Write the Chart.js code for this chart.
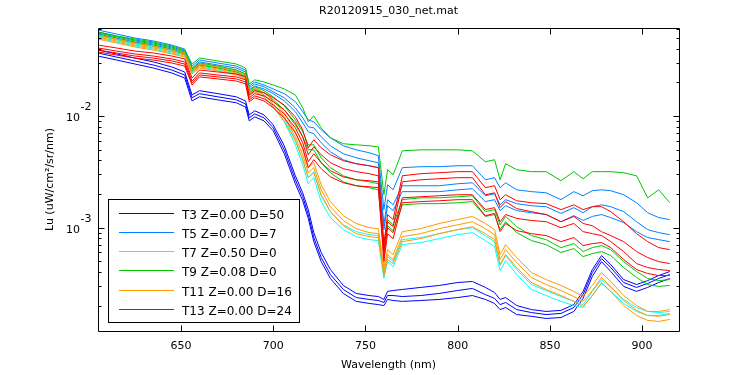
<!DOCTYPE html>
<html>
<head>
<meta charset="utf-8">
<script src="https://cdn.jsdelivr.net/npm/chart.js@4.4.0/dist/chart.umd.min.js"></script>
<style>
  html, body { margin: 0; padding: 0; background: #fff; }
  #spectra { display: block; }
</style>
</head>
<body>
<canvas id="spectra" width="750" height="375"></canvas>
<script>
const chartTitle = "R20120915_030_net.mat";
const xTitle = "Wavelength (nm)";
const yTitle = "Lu (uW/cm\u00b2/sr/nm)";

// x ticks and y decades / minor ticks (log axis)
const xTicks = [650, 700, 750, 800, 850, 900];
const yMajorTicks = [1e-3, 1e-2];
const yMinorTicks = [2e-4, 3e-4, 4e-4, 5e-4, 6e-4, 7e-4, 8e-4, 9e-4,
  2e-3, 3e-3, 4e-3, 5e-3, 6e-3, 7e-3, 8e-3, 9e-3, 2e-2, 3e-2, 4e-2, 5e-2, 6e-2];

const wavelengths = [605, 615, 625, 635, 645, 652, 656, 660, 670, 680, 685, 687, 690,
  695, 700, 706, 712, 716, 719, 722, 726, 731, 738, 745, 752, 757, 760, 762, 765, 770,
  780, 790, 800, 808, 815, 820, 823, 826, 832, 840, 848, 856, 863, 868, 873, 878, 883,
  890, 897, 903, 909, 915];

// all radiance values below are in units of 1e-4 uW/cm^2/sr/nm
const UNIT = 1e-4;

const t3 = [
  [388,358,329,304,274,247,154,168,158,148,136,102,111,102,83.1,54.0,29.1,20.5,14.5,9.03,5.99,4.22,3.04,2.58,2.47,2.42,2.28,2.69,2.74,2.80,2.92,3.04,3.23,3.30,2.92,2.63,2.28,2.37,2.01,1.85,1.78,1.82,2.05,2.69,4.22,5.63,4.67,3.43,3.10,3.36,3.73,4.05],
  [365,336,310,285,257,232,145,158,148,139,128,96.0,104,96.0,78.2,49.7,26.8,18.9,13.1,8.15,5.40,3.81,2.80,2.37,2.28,2.23,2.14,2.47,2.47,2.42,2.47,2.58,2.74,2.86,2.52,2.33,2.05,2.14,1.85,1.74,1.67,1.71,1.93,2.52,3.97,5.29,4.40,3.23,2.92,3.17,3.51,3.81],
  [343,316,291,268,242,218,136,148,139,131,120,90.2,98.0,90.2,73.5,45.8,24.7,17.4,12.1,7.50,4.97,3.51,2.58,2.19,2.10,2.05,2.01,2.28,2.23,2.19,2.23,2.28,2.37,2.47,2.28,2.10,1.85,1.93,1.67,1.61,1.54,1.57,1.78,2.33,3.66,4.97,4.05,2.98,2.69,2.92,3.23,3.51],
];
const t5 = [
  [586,540,497,468,430,396,279,316,297,279,257,185,201,189,174,158,134,109,92.1,88.4,75.0,63.7,54.0,49.7,46.8,44.0,14.5,24.2,21.8,34.4,35.1,35.1,35.8,35.8,26.8,28.0,22.8,25.2,21.8,21.0,20.5,17.8,21.0,19.3,21.4,21.8,21.4,19.7,16.7,13.6,12.3,11.8],
  [563,518,477,449,413,380,268,304,285,268,247,178,193,182,164,145,118,96.0,79.8,78.2,65.0,54.0,45.8,42.2,39.7,38.1,10.6,17.8,16.0,23.7,23.7,23.7,24.7,25.2,19.3,20.1,16.0,17.8,16.4,15.7,15.4,13.4,15.1,13.6,15.4,16.0,15.4,13.9,11.3,9.60,9.03,8.66],
  [540,497,458,430,396,365,257,291,274,257,237,171,185,174,158,136,109,86.6,72.0,69.1,57.5,47.7,40.5,37.3,35.8,34.4,9.60,15.7,14.2,21.0,21.0,21.0,21.8,22.3,17.1,17.8,14.2,15.7,14.2,13.6,13.1,11.3,12.8,11.6,12.6,13.1,12.3,11.1,9.21,8.15,7.81,7.50],
];
const t7 = [
  [518,477,440,413,380,358,252,285,268,247,227,161,174,154,128,96.0,61.1,40.5,28.0,31.7,19.3,13.9,10.6,9.21,8.66,8.49,3.81,5.51,4.97,7.81,8.15,8.84,9.60,10.0,8.49,7.50,4.58,5.63,4.22,3.10,2.74,2.42,2.19,2.05,2.69,3.43,2.92,2.28,1.93,1.78,1.74,1.78],
  [497,458,422,396,365,343,242,274,257,237,218,154,168,148,120,88.4,55.1,36.5,24.7,28.0,17.1,12.3,9.60,8.31,7.81,7.66,3.51,4.97,4.49,7.05,7.35,7.98,8.66,9.03,7.66,6.77,4.13,5.08,3.81,2.80,2.47,2.19,2.01,1.93,2.47,3.17,2.69,2.10,1.78,1.64,1.64,1.71],
];
const t9 = [
  [563,518,487,458,422,388,291,329,310,291,268,193,210,201,189,174,154,118,88.4,100,78.2,63.7,56.3,55.1,54.0,52.9,19.7,33.0,29.7,48.7,49.7,49.7,49.7,48.7,38.9,40.5,26.8,37.3,33.0,31.7,31.7,26.3,31.7,27.4,31.7,31.7,31.7,31.0,29.1,18.5,21.8,16.7],
  [551,508,468,440,405,373,263,297,279,257,237,168,182,168,148,123,92.1,72.0,55.1,55.1,42.2,34.4,29.1,26.8,25.7,24.7,7.05,11.8,10.6,17.8,18.5,18.5,18.9,19.3,13.9,14.5,10.6,12.6,10.2,8.49,7.81,6.63,7.20,6.11,6.63,6.91,6.36,4.97,4.05,3.51,3.36,3.43],
  [529,487,449,422,388,358,252,285,268,247,227,161,174,161,139,113,83.1,65.0,49.7,49.7,38.1,31.0,25.7,23.7,22.8,21.8,6.36,10.4,9.41,16.0,16.4,16.4,16.7,17.1,12.6,13.1,9.60,11.3,9.03,7.66,7.05,5.99,6.50,5.51,5.86,6.11,5.63,4.40,3.58,3.10,2.98,3.04],
];
const t11 = [
  [529,487,449,422,388,365,257,291,274,252,232,164,178,161,136,106,72.0,49.7,34.4,38.1,24.2,17.1,12.8,10.9,10.0,9.80,4.40,6.36,5.74,9.21,9.80,10.9,11.8,12.6,10.9,9.60,5.74,7.05,5.40,3.97,3.43,3.04,2.69,2.42,3.04,3.97,3.30,2.47,2.01,1.78,1.78,1.85],
  [508,468,430,405,373,350,247,279,263,242,223,158,171,154,128,98.0,65.0,44.9,31.0,34.4,21.8,15.4,11.6,9.80,9.03,8.84,4.05,5.74,5.18,8.31,8.84,9.80,10.6,11.3,9.80,8.66,5.18,6.36,4.87,3.58,3.10,2.74,2.42,2.19,2.74,3.58,2.98,2.23,1.82,1.64,1.61,1.67],
  [487,449,413,388,358,336,237,268,252,232,214,151,164,148,120,90.2,59.9,40.5,28.0,31.0,19.7,13.9,10.4,8.84,8.31,8.15,3.73,5.18,4.77,7.50,7.98,8.84,9.60,10.2,8.84,7.81,4.67,5.74,4.40,3.23,2.80,2.47,2.19,1.97,2.47,3.23,2.69,2.01,1.64,1.48,1.45,1.51],
];
const t13 = [
  [430,405,380,365,343,323,218,257,247,237,223,154,168,161,145,125,98.0,75.0,51.8,61.1,51.8,44.9,39.7,37.3,35.8,34.4,7.05,13.1,11.8,29.1,30.4,31.0,31.7,31.7,22.8,23.7,17.8,19.7,17.4,16.7,16.4,14.5,16.0,14.5,15.4,15.4,13.9,11.3,8.84,7.50,6.63,6.36],
  [405,380,358,343,323,304,205,242,232,223,210,145,158,151,134,113,86.6,65.0,44.9,52.9,44.9,38.1,33.7,31.7,30.4,29.1,6.11,11.3,10.2,25.7,26.8,27.4,28.0,28.0,19.7,20.5,15.1,17.1,14.8,13.9,13.1,11.3,12.6,10.9,10.4,9.21,8.49,7.50,6.11,5.40,4.97,4.77],
  [388,365,343,329,310,291,197,232,223,214,201,139,151,142,125,104,78.2,57.5,38.9,45.8,38.1,32.3,28.5,26.8,26.3,25.7,5.40,10.0,9.03,18.5,18.9,19.3,19.7,19.7,14.5,15.1,11.3,13.1,12.1,11.6,11.3,10.0,10.9,9.21,8.84,8.49,7.50,6.11,4.77,4.40,4.22,4.13],
  [373,350,329,316,297,279,189,223,214,205,193,134,145,136,118,96.0,70.6,51.8,34.4,40.5,33.7,28.5,25.2,23.7,23.2,22.8,4.97,8.84,7.98,16.7,17.1,17.4,17.8,17.8,12.8,13.4,9.21,10.9,9.41,8.84,8.49,7.50,8.15,6.91,7.20,7.35,6.63,5.18,4.22,3.89,3.73,3.73],
];

const seriesLabels = ["T3 Z=0.00 D=50", "T5 Z=0.00 D=7", "T7 Z=0.50 D=0",
  "T9 Z=0.08 D=0", "T11 Z=0.00 D=16", "T13 Z=0.00 D=24"];
const seriesLines = [t3, t5, t7, t9, t11, t13];
const seriesColors = ["#0000ff", "#0080ff", "#00ffff", "#00c800", "#ff9900", "#ff0000"];

const FONT = "DejaVu Sans";

// one Chart.js dataset per spectrum, later groups drawn on top
const datasets = [];
seriesLines.forEach((lines, g) => {
  lines.forEach((vals) => {
    datasets.push({
      label: seriesLabels[g],
      borderColor: seriesColors[g],
      backgroundColor: seriesColors[g],
      data: wavelengths.map((w, i) => ({ x: w, y: vals[i] * UNIT })),
      order: -datasets.length,
    });
  });
});

// box, inward ticks, y labels with superscripts, title, legend
const matlabAxes = {
  id: "matlabAxes",
  afterDraw(chart) {
    const { ctx, chartArea: a, scales } = chart;
    const xs = scales.x;
    const ys = scales.y;
    ctx.save();
    ctx.strokeStyle = "#000";
    ctx.fillStyle = "#000";
    ctx.lineWidth = 1;

    ctx.beginPath();
    ctx.rect(a.left + 0.5, a.top + 0.5, a.right - a.left, a.bottom - a.top);
    xTicks.forEach((v) => {
      const px = Math.round(xs.getPixelForValue(v)) + 0.5;
      ctx.moveTo(px, a.bottom + 0.5);
      ctx.lineTo(px, a.bottom - 5.5);
      ctx.moveTo(px, a.top + 0.5);
      ctx.lineTo(px, a.top + 6.5);
    });
    const yTick = (v, len) => {
      const py = Math.round(ys.getPixelForValue(v)) + 0.5;
      ctx.moveTo(a.left + 0.5, py);
      ctx.lineTo(a.left + 0.5 + len, py);
      ctx.moveTo(a.right + 0.5, py);
      ctx.lineTo(a.right + 0.5 - len, py);
    };
    yMajorTicks.forEach((v) => yTick(v, 6));
    yMinorTicks.forEach((v) => yTick(v, 3));
    ctx.stroke();

    ctx.font = "11px " + FONT;
    ctx.textAlign = "left";
    ctx.textBaseline = "alphabetic";
    yMajorTicks.forEach((v) => {
      const py = ys.getPixelForValue(v);
      ctx.fillText("10", 66, py + 5);
      ctx.fillText(String(Math.round(Math.log10(v))), 80.5, py - 5.5);
    });

    ctx.textAlign = "center";
    ctx.fillText(chartTitle, (a.left + a.right) / 2, 14);

    // legend
    const lx = 108, ly = 199, lw = 191, lh = 123;
    ctx.fillStyle = "#fff";
    ctx.fillRect(lx, ly, lw, lh);
    ctx.strokeRect(lx + 0.5, ly + 0.5, lw, lh);
    ctx.font = "12px " + FONT;
    ctx.textAlign = "left";
    seriesLabels.forEach((label, i) => {
      const rowY = Math.round(212.7 + i * 19.2) + 0.5;
      ctx.strokeStyle = seriesColors[i];
      ctx.beginPath();
      ctx.moveTo(119, rowY);
      ctx.lineTo(174, rowY);
      ctx.stroke();
      ctx.fillStyle = "#000";
      ctx.fillText(label, 182, rowY + 5.5);
    });
    ctx.restore();
  },
};

new Chart(document.getElementById("spectra"), {
  type: "line",
  data: { datasets },
  options: {
    responsive: false,
    animation: false,
    devicePixelRatio: 1,
    layout: { padding: { top: 28, right: 71, bottom: 0, left: 0 } },
    elements: {
      point: { radius: 0 },
      line: { borderWidth: 1, tension: 0 },
    },
    plugins: {
      legend: { display: false },
      tooltip: { enabled: false },
      title: { display: false },
    },
    scales: {
      x: {
        type: "linear",
        min: 605,
        max: 920,
        grid: { display: false, drawTicks: false },
        border: { display: false },
        ticks: {
          stepSize: 50,
          includeBounds: false,
          color: "#000",
          font: { family: FONT, size: 11 },
          padding: 9,
          maxRotation: 0,
        },
        title: {
          display: true,
          text: xTitle,
          color: "#000",
          font: { family: FONT, size: 11 },
          padding: { top: 0, bottom: 3 },
        },
        afterFit: (scale) => {
          scale.height = 44;
        },
      },
      y: {
        type: "logarithmic",
        min: 1.19e-4,
        max: 6.11e-2,
        grid: { display: false, drawTicks: false },
        border: { display: false },
        ticks: { display: false },
        title: {
          display: true,
          text: yTitle,
          color: "#000",
          font: { family: FONT, size: 11 },
          padding: { top: 44, bottom: 0 },
        },
        afterFit: (scale) => {
          scale.width = 98;
        },
      },
    },
  },
  plugins: [matlabAxes],
});
</script>
</body>
</html>
